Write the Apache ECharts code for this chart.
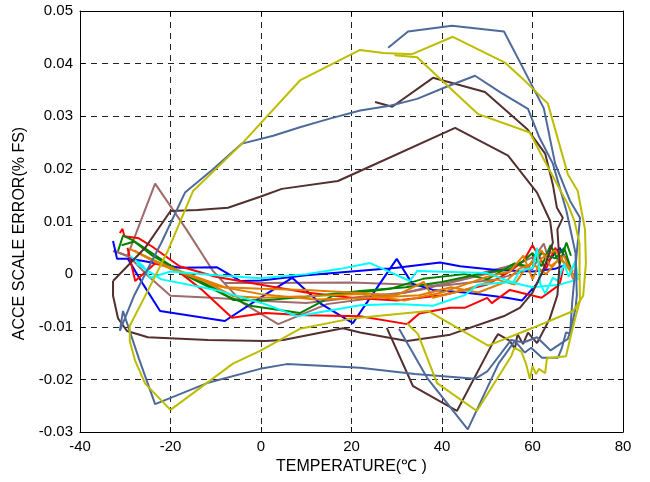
<!DOCTYPE html>
<html>
<head>
<meta charset="utf-8">
<script src="https://cdn.jsdelivr.net/npm/echarts@6/dist/echarts.min.js"></script>
<style>html,body{margin:0;padding:0;background:#fff}#c{width:650px;height:482px}</style>
</head>
<body>
<div id="c"></div>
<script>
// Axis ticks
const xTicks = [-40, -20, 0, 20, 40, 60, 80];
const yTicks = [-0.03, -0.02, -0.01, 0, 0.01, 0.02, 0.03, 0.04, 0.05];

// Series data: [temperature, error]
const slateA = [[28.1,0.0430],[32.5,0.0461],[42.2,0.0472],[53.7,0.0461],[58,0.039],[62.5,0.0315],[65,0.0210],[68.3,0.0139],[70.5,0.0107],[69.4,0.0005],[68.8,-0.0051],[68.3,-0.0113],[67.4,-0.0111],[66.5,-0.0140],[65.6,-0.0159],[62.1,-0.0159],[59.7,-0.0140],[58.3,-0.0149],[56.1,-0.0127],[52.5,-0.0170],[45.7,-0.0295],[36.7,-0.0197],[30.5,-0.0104]];
const slateB = [[-31.2,-0.0108],[-28,-0.0040],[-22,0.0060],[-16.8,0.0155],[-10.8,0.0198],[-4.2,0.0248],[2.7,0.0263],[8.6,0.0279],[15,0.0295],[21.9,0.0311],[28.5,0.0320],[34.5,0.0333],[41,0.0356],[47.3,0.0377],[53,0.0345],[59,0.0314],[61.5,0.0260],[64.5,0.0210],[67.5,0.0120],[69.5,0.0040],[69.8,-0.0040],[69.5,-0.0065],[68.5,-0.0105],[67.8,-0.0123],[64,-0.0145],[61,-0.0120],[58,-0.0130],[55.3,-0.0125],[50,-0.0185],[47.3,-0.0199],[34,-0.0190],[21.9,-0.0178],[5.7,-0.0171],[-0.2,-0.0180],[-11.9,-0.0207],[-23.4,-0.0247],[-27,-0.0160],[-30.5,-0.0070],[-31.2,-0.0108]];
const yellowA = [[-20,-0.0258],[-25.6,-0.0208],[-27.8,-0.0165],[-29,-0.0127],[-29,-0.0098],[-24.8,-0.0028],[-20.6,0.0044],[-15,0.0158],[-4.2,0.0248],[8.6,0.0368],[21.9,0.0426],[27,0.0420],[33.4,0.0418],[42.4,0.0451],[53.9,0.0402],[58,0.0370],[63.4,0.0324],[67.8,0.0190],[70,0.0158],[71.6,0.0085],[71.8,0.0020],[71.2,-0.0041],[69,-0.0070],[60.1,-0.0102],[50.2,-0.0136],[36.9,-0.0070],[19.6,-0.0085],[8.6,-0.0104],[-0.2,-0.0146],[-6.2,-0.0170],[-20,-0.0258]];
const yellowB = [[29.5,0.0416],[34.5,0.0412],[41,0.0360],[48,0.0304],[59.4,0.0269],[62.3,0.0221],[67.8,0.0133],[69.3,0.0100],[70.4,0.0058],[70.4,-0.0003],[70.5,-0.0050],[69,-0.0098],[67.4,-0.0156],[63.2,-0.0160],[62.8,-0.0188],[61.4,-0.0180],[60.8,-0.0190],[60,-0.0175],[59.4,-0.0199],[58.6,-0.0171],[57.5,-0.0147],[56,-0.0140],[55.3,-0.0156],[47.7,-0.0260],[38.9,-0.0207],[34.7,-0.0114],[32.3,-0.0094]];
const brownA = [[25.2,0.0327],[29,0.0318],[38,0.0373],[49.5,0.0346],[58.8,0.0276],[62.8,0.0229],[64.5,0.0170],[65.4,0.0126],[66.7,0.0107],[65.5,0.0085],[66,0.0020],[65.5,-0.0040],[63.8,-0.0085],[61,-0.0131],[59,-0.0111],[57.9,-0.0133],[56.7,-0.0114],[56.1,-0.0142],[55,-0.0127],[52.4,-0.0114],[51.7,-0.0123],[43.3,-0.0260],[33.6,-0.0213],[27.8,-0.0102]];
const brownB = [[-32.7,-0.0013],[-25.6,0.0050],[-20,0.0120],[-14.1,0.0122],[-7.3,0.0126],[-0.2,0.0147],[4.6,0.0162],[17,0.0177],[21.9,0.0196],[42.9,0.0278],[54.6,0.0225],[61,0.0155],[63.9,0.0101],[64.5,0.0060],[62.5,0.0010],[60,-0.0035],[57.2,-0.0064],[53.9,-0.0079],[41.8,-0.0115],[32.3,-0.0127],[21.9,-0.0111],[18.1,-0.0103],[4.9,-0.0125],[0.9,-0.0127],[-11.7,-0.0125],[-25,-0.0120],[-29.6,-0.0108],[-31.6,-0.0084],[-32.7,-0.0041],[-32.7,-0.0013]];
const rosyA = [[-32.7,0.0044],[-29.5,0.0035],[-23.4,0.0172],[-16.5,0.0085],[-10.6,0.0006],[-4,-0.0055],[3.8,-0.0095],[14.6,-0.0057],[25,-0.0045],[35,-0.0030],[45,-0.0010],[52,0.0005],[56,0.0020],[59,0.0010],[61,0.0040],[62.5,0.0058],[63.5,0.0030]];
const rosyB = [[-32.5,0.0045],[-29,0.0032],[-25,-0.0003],[-20,-0.0041],[-10.8,-0.0045],[0.9,-0.0051],[10,-0.0055],[20,-0.0045],[32,-0.0035],[42,-0.0015],[50,0.0005],[57,0.0020],[62,0.0040],[60,0.0010],[52,-0.0010],[40,-0.0022],[20,-0.0016],[0,-0.0017],[-8,-0.0017]];
const blueA = [[-32.7,0.0063],[-31.8,0.0029],[-29.4,0.0029],[-26,-0.0020],[-22.3,-0.0070],[-8,-0.0089],[-0.2,-0.0045],[6.9,-0.0007],[13,-0.0055],[20.3,-0.0093],[30,0.0029],[33.4,-0.0018],[38,-0.0030],[45,-0.0035],[50,-0.0040],[54.3,-0.0045],[57.7,-0.0050],[61,-0.0018],[63,0.0020],[66,0.0050],[68,0.0020],[65,0.0010],[60,0.0005],[52,0.0008],[44,0.0015],[39.6,0.0022],[30,0.0012],[20,0.0005],[10,-0.0002],[0,-0.0012],[-4.6,-0.0013],[-9.7,0.0013],[-18,0.0012],[-26,0.0025],[-29.4,0.0029]];
const redA = [[-31.2,0.0078],[-30.6,0.0086],[-30.2,0.0072],[-27,0.0068],[-24,0.0052],[-18,0.0015],[-10,-0.0005],[0,-0.0020],[10,-0.0035],[20,-0.0045],[30,-0.0050],[40,-0.0040],[45,-0.0030],[50,-0.0020],[55,0.0005],[58,0.0025],[60,0.0055],[61,0.0040],[63,0.0010],[65,0.0050],[67,0.0020],[66,-0.0020],[62,-0.0045],[55,-0.0030],[51,-0.0055],[50,-0.0045],[45,-0.0064],[41.8,-0.0064],[35,-0.0075],[32.3,-0.0095],[21.9,-0.0080],[10,-0.0078],[0.9,-0.0074],[-6.4,-0.0083],[-13,-0.0030],[-19,0.0010],[-23.4,0.0020],[-27.8,-0.0013],[-29.5,0.0050]];
const greenA = [[-31.6,0.0044],[-30.5,0.0073],[-28.5,0.0065],[-25,0.0045],[-18,0.0005],[-10,-0.0028],[-6.2,-0.0049],[0,-0.0050],[10,-0.0043],[21.9,-0.0032],[32,-0.0025],[40,-0.0015],[48,0.0000],[55,0.0010],[58,0.0025],[60,0.0040],[62,0.0015],[64,0.0055],[66,0.0020],[67.5,0.0060],[68.5,0.0035]];
const greenB = [[-30.8,0.0055],[-28,0.0062],[-24,0.0035],[-16,-0.0005],[-8,-0.0040],[-2.4,-0.0060],[8.6,-0.0074],[15.9,-0.0041],[28.5,-0.0028],[35.8,-0.0009],[45,0.0000],[50,-0.0010],[56,0.0020],[59,0.0015],[62,0.0040],[65,0.0030],[67,0.0050],[68.5,0.0010]];
const orangeA = [[-29,0.0048],[-26,0.0035],[-20,0.0010],[-12,-0.0015],[-6.2,-0.0042],[0,-0.0045],[10,-0.0042],[21.9,-0.0038],[31.7,-0.0050],[40,-0.0035],[45,-0.0020],[50,-0.0005],[55,0.0005],[58,0.0035],[60,-0.0010],[62,0.0030],[65,0.0045],[68,0.0010],[70,-0.0010]];
const orangeB = [[-28,0.0045],[-24,0.0025],[-16,0.0000],[-8,-0.0025],[0,-0.0028],[10,-0.0030],[20,-0.0035],[30,-0.0040],[36,-0.0015],[38,-0.0045],[45,-0.0030],[52,-0.0010],[56,-0.0020],[58,0.0005],[62,0.0045],[64,0.0015],[67,0.0035],[69,-0.0010]];
const orangeC = [[-27,0.0040],[-22,0.0020],[-10,-0.0022],[0,-0.0038],[12,-0.0048],[25,-0.0045],[35,-0.0040],[42,-0.0025],[48,-0.0035],[54,-0.0015],[57,0.0010],[60,0.0020],[63,0.0000],[66,0.0030],[69,0.0005]];
const cyanA = [[-29,0.0035],[-26,0.0015],[-24.5,-0.0007],[-20,0.0005],[-10,-0.0002],[0,-0.0008],[10,0.0000],[17.5,0.0010],[24.1,0.0021],[32.9,-0.0013],[34.5,0.0006],[49.9,0.0002],[55.7,-0.0016],[57.2,0.0006],[60.1,0.0012],[61,0.0050],[61.7,-0.0018],[62.8,-0.0037],[64.5,-0.0007],[65.6,-0.0013],[67,0.0020],[68,-0.0005],[69.5,0.0025],[70,-0.0010],[66,-0.0020],[60,-0.0025],[55,-0.0015],[48,-0.0020],[45,-0.0040],[38,-0.0060],[30,-0.0057],[21.9,-0.0059],[14.6,-0.0070],[8,-0.0080],[0.9,-0.0057],[-10,-0.0030],[-22,-0.0010],[-27.5,0.0020]];

const colors = {
  slate:'#4E6A9A', yellow:'#BDBD00', brown:'#532F2F', rosy:'#A06A6A',
  blue:'#0000FF', red:'#FF0000', green:'#008000', orange:'#E07E00', cyan:'#00FFFF'
};
const seriesDefs = [
  [rosyA,'rosy'],[rosyB,'rosy'],[blueA,'blue'],[redA,'red'],
  [greenA,'green'],[greenB,'green'],[orangeA,'orange'],[orangeB,'orange'],[orangeC,'orange'],
  [cyanA,'cyan'],[brownA,'brown'],[brownB,'brown'],[slateA,'slate'],[slateB,'slate'],
  [yellowA,'yellow'],[yellowB,'yellow']
];

const font = 'Liberation Sans, Arial, sans-serif';
const fmtY = v => { const r = Math.round(v*100)/100; return r === 0 ? '0' : String(r); };
const axisCommon = {
  type:'value',
  axisLine:{show:true, onZero:false, lineStyle:{color:'#000', width:1}},
  axisTick:{show:true, inside:true, length:5, lineStyle:{color:'#000'}},
};
const chart = echarts.init(document.getElementById('c'), null, {renderer:'canvas'});
chart.setOption({
  animation:false,
  backgroundColor:'#fff',
  grid:{left:80, right:27, top:11, bottom:50, containLabel:false},
  xAxis:[
    Object.assign({}, axisCommon, {min:xTicks[0], max:xTicks[xTicks.length-1], interval:20, position:'bottom',
      name:'TEMPERATURE(℃ )', nameLocation:'middle', nameGap:26,
      nameTextStyle:{fontFamily:font, fontSize:16, color:'#000'},
      axisLabel:{fontFamily:font, fontSize:15, color:'#000', margin:7},
      splitLine:{show:true, lineStyle:{color:'#222', type:[6,5], width:1}}}),
    Object.assign({}, axisCommon, {min:xTicks[0], max:xTicks[xTicks.length-1], interval:20, position:'top',
      axisLabel:{show:false}, splitLine:{show:false}})
  ],
  yAxis:[
    Object.assign({}, axisCommon, {min:yTicks[0], max:yTicks[yTicks.length-1], interval:0.01, position:'left',
      name:'ACCE SCALE ERROR(% FS)', nameLocation:'middle', nameGap:41,
      nameTextStyle:{fontFamily:font, fontSize:16, color:'#000', padding:[0, 24, 0, 0]},
      axisLabel:{fontFamily:font, fontSize:15, color:'#000', margin:7, formatter:fmtY},
      splitLine:{show:true, lineStyle:{color:'#222', type:[6,5], width:1}}}),
    Object.assign({}, axisCommon, {min:yTicks[0], max:yTicks[yTicks.length-1], interval:0.01, position:'right',
      axisLabel:{show:false}, splitLine:{show:false}})
  ],
  series: seriesDefs.map(([d,c]) => ({
    type:'line', data:d, showSymbol:false, symbol:'none', smooth:false,
    xAxisIndex:0, yAxisIndex:0, clip:true,
    lineStyle:{color:colors[c], width:2}, itemStyle:{color:colors[c]}
  }))
});
</script>
</body>
</html>
